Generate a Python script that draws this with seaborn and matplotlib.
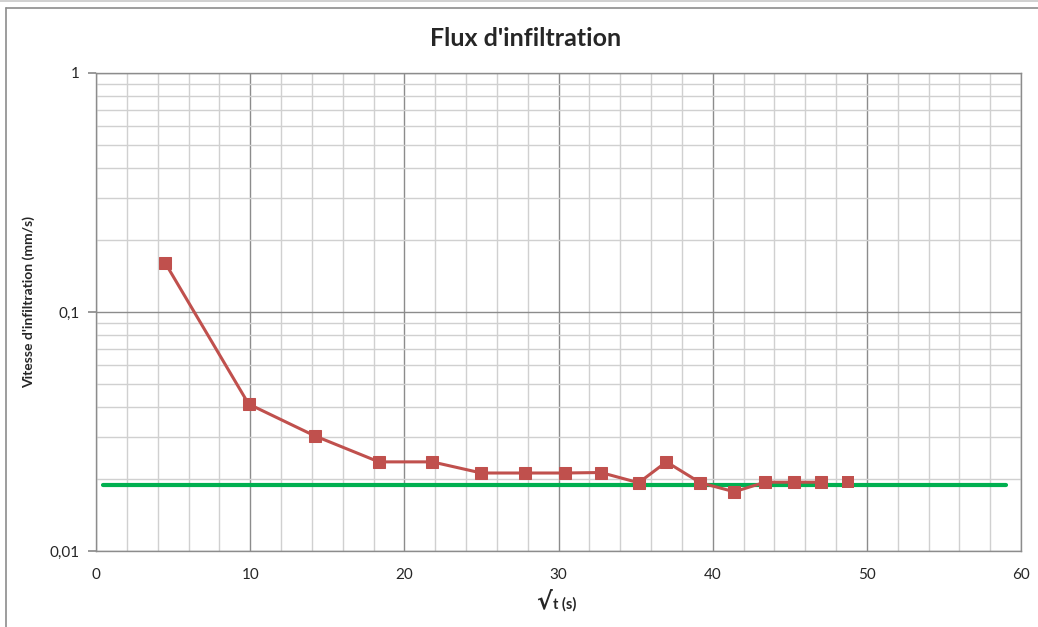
import numpy as np
import pandas as pd
import matplotlib
matplotlib.use("Agg")
import matplotlib.pyplot as plt
from matplotlib.ticker import FixedLocator, NullFormatter, MultipleLocator
from matplotlib.lines import Line2D
import seaborn as sns

# ---- data ----
sqrt_t = [4.5, 9.9, 14.2, 18.35, 21.8, 25.0, 27.8, 30.4, 32.75, 35.2, 37.0, 39.2, 41.4, 43.4, 45.3, 47.0, 48.8]
vitesse = [0.160, 0.0412, 0.0303, 0.0236, 0.0236, 0.0212, 0.0212, 0.0212, 0.0213, 0.0193, 0.0236,
           0.0193, 0.0177, 0.0194, 0.0194, 0.0194, 0.0194]
ref_x = [0.45, 59.0]
ref_y = [0.0189, 0.0189]
y_ticks = [0.01, 0.1, 1]
y_tick_labels = ["0,01", "0,1", "1"]

sns.set_theme(style="white")
plt.rcParams['font.family'] = ['Lato', 'DejaVu Sans']

fig = plt.figure(figsize=(10.38, 6.27), dpi=100)
ax = fig.add_axes([96/1038, 1-551/627, (1021-96)/1038, (551-73)/627])

df = pd.DataFrame({"x": sqrt_t, "y": vitesse})
red = "#C0504D"
green = "#00B050"

# reference line
sns.lineplot(x=ref_x, y=ref_y, ax=ax, color=green, linewidth=3.0, zorder=3)
# connected series (last point is a marker only)
sns.lineplot(data=df.iloc[:-1], x="x", y="y", ax=ax, color=red, linewidth=2.2, zorder=4,
             marker="s", markersize=9, markeredgecolor=red, markerfacecolor=red)
sns.scatterplot(data=df.iloc[-1:], x="x", y="y", ax=ax, color=red, marker="s", s=81,
                edgecolor=red, linewidth=0, zorder=5)

ax.set_yscale("log")
ax.set_ylim(0.01, 1)
ax.set_xlim(0, 60)

ax.xaxis.set_major_locator(MultipleLocator(10))
ax.xaxis.set_minor_locator(MultipleLocator(2))
ax.yaxis.set_major_locator(FixedLocator(y_ticks))
minor_y = [m * d for d in [0.01, 0.1] for m in range(2, 10)]
ax.yaxis.set_minor_locator(FixedLocator(minor_y))
ax.yaxis.set_minor_formatter(NullFormatter())
ax.set_yticklabels(y_tick_labels)

ax.grid(which="major", axis="both", color="#8C8C8C", linewidth=1.0, zorder=0)
ax.grid(which="minor", axis="both", color="#D0D0D0", linewidth=1.0, zorder=0)
ax.set_axisbelow(True)

for s in ax.spines.values():
    s.set_color("#8C8C8C")
    s.set_linewidth(1.0)

ax.tick_params(axis="y", which="major", length=6, color="#8C8C8C", labelsize=11, pad=6, left=True)
ax.tick_params(axis="y", which="minor", length=0)
ax.tick_params(axis="x", which="both", length=0, labelsize=11, pad=12)

ax.set_xlabel("")
ax.set_ylabel("Vitesse d'infiltration (mm/s)", fontsize=10, fontweight="bold")
ax.yaxis.set_label_coords((35-96)/925, (551-302)/478)

fig.text(526/1038, 1-38/627, "Flux d'infiltration", ha="center", va="center",
         fontsize=18, fontweight="bold")
fig.text(552/1038, 1-601/627, "\u221A", ha="right", va="center", fontsize=17, fontweight="bold",
         family=['DejaVu Sans'])
fig.text(553/1038, 1-604/627, "t (s)", ha="left", va="center", fontsize=10.5, fontweight="bold")

# chart border
fig.add_artist(Line2D([6/1038, 6/1038], [0, 1-8/627], transform=fig.transFigure, color="#8C8C8C", linewidth=1.2))
fig.add_artist(Line2D([6/1038, 1], [1-8/627, 1-8/627], transform=fig.transFigure, color="#8C8C8C", linewidth=1.2))
fig.add_artist(Line2D([0, 1], [1-1/627, 1-1/627], transform=fig.transFigure, color="#C8C8C8", linewidth=1.2))

fig.savefig("out.png", dpi=100)
